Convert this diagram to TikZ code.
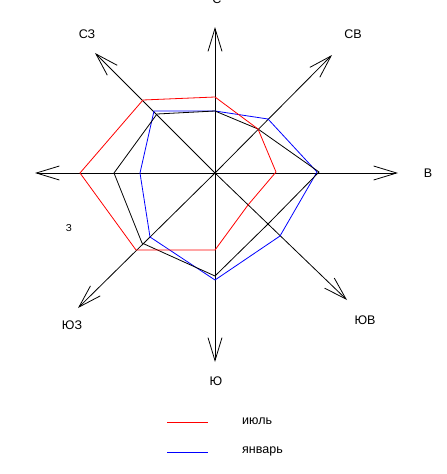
\documentclass[tikz,border=0pt]{standalone}
\usepackage{fontspec}
\setmainfont{Liberation Sans}
\usetikzlibrary{arrows.meta}
\begin{document}
\begin{tikzpicture}[x=1pt,y=-1pt,
  axis/.style={draw=black,line width=0.8pt,-{Straight Barb[length=23pt,width=14pt,line width=0.8pt]}},
  series/.style={line width=0.8pt,line join=miter},
  lbl/.style={font=\fontsize{12.5}{15}\selectfont,inner sep=0pt},
  legline/.style={line width=0.8pt}]
\useasboundingbox (0,0) rectangle (447,474);
\coordinate (O) at (215,173);
\coordinate (tN) at (215,27);
\coordinate (tS) at (215,362);
\coordinate (tW) at (35,173);
\coordinate (tE) at (398,173);
\coordinate (tNW) at (95,53);
\coordinate (tNE) at (332,55);
\coordinate (tSW) at (78,308);
\coordinate (tSE) at (347,300);
\foreach \t in {tN,tS,tW,tE,tNW,tNE,tSW,tSE} \draw[axis] (O) -- (\t);
% январь
\draw[series,blue] (215,111) -- (268,119) -- (317,172) -- (280,236) -- (215,280) -- (150,237) -- (140,173) -- (154,111) -- cycle;
% среднее
\draw[series,black] (215,111) -- (258,129) -- (319,172) -- (268,224) -- (215,276) -- (142,243) -- (114,173) -- (157,114) -- cycle;
% июль
\draw[series,red] (215,97) -- (258,129) -- (276,172) -- (248,205) -- (215,250) -- (136,250) -- (80,173) -- (143,100) -- cycle;
% labels
\node[lbl,anchor=base] (lN) at (217,3.5) {С};
\node[lbl] (lNW) at (87,34) {СЗ};
\node[lbl] (lNE) at (353,34.5) {СВ};
\node[lbl] (lE) at (428,173) {В};
\node[lbl] (lS) at (216,381) {Ю};
\node[lbl] (lSW) at (72,325) {ЮЗ};
\node[lbl] (lSE) at (365,320) {ЮВ};
\node[lbl,font=\fontsize{10}{12}\selectfont] (lW) at (69,228) {З};
% legend
\coordinate (r1) at (167,422); \coordinate (r2) at (208,422);
\coordinate (b1) at (167,452); \coordinate (b2) at (208,452);
\draw[legline,red] (r1) -- (r2);
\draw[legline,blue] (b1) -- (b2);
\node[lbl,anchor=west] (leg1) at (242,421) {июль};
\node[lbl,anchor=west] (leg2) at (242,451) {январь};
\end{tikzpicture}
\end{document}
